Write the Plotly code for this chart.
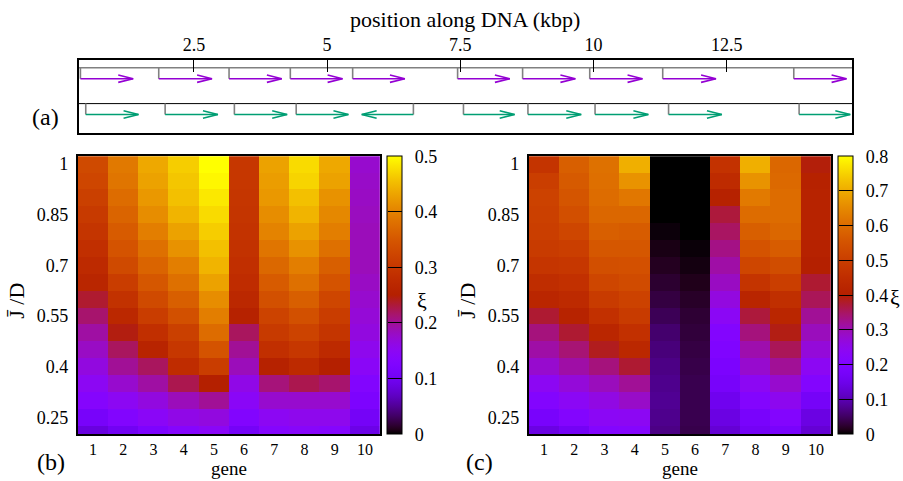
import math
import plotly.graph_objects as go

# ---------------- data ----------------
# panel (a): genes on the two rows (kbp)
top_start = [0.37, 1.84, 3.16, 4.31, 5.48, 7.45, 8.67, 9.93, 11.30, 13.76]
top_end = [1.36, 2.84, 4.15, 5.29, 6.46, 8.43, 9.66, 10.92, 12.30, 14.75]
bot_start = [0.47, 1.96, 3.26, 4.42, 6.62, 7.56, 8.77, 10.03, 11.41, 13.86]
bot_end = [1.46, 2.95, 4.25, 5.40, 5.65, 8.52, 9.77, 11.03, 12.41, 14.82]
pos_ticks = [2.5, 5, 7.5, 10, 12.5]
pos_labels = ["2.5", "5", "7.5", "10", "12.5"]

genes = [1, 2, 3, 4, 5, 6, 7, 8, 9, 10]
J = [0.2, 0.25, 0.3, 0.35, 0.4, 0.45, 0.5, 0.55, 0.6, 0.65, 0.7, 0.75, 0.8, 0.85, 0.9, 0.95, 1.0]
J_ticks = [0.25, 0.4, 0.55, 0.7, 0.85, 1.0]
J_labels = ["0.25", "0.4", "0.55", "0.7", "0.85", "1"]

# panel (b): xi per gene (columns) vs J (rows, J ascending)
xi_b = {
    1: [0.085, 0.11, 0.135, 0.15, 0.165, 0.18, 0.195, 0.215, 0.235, 0.265, 0.275, 0.285, 0.295, 0.305, 0.315, 0.325, 0.33],
    2: [0.10, 0.13, 0.15, 0.175, 0.20, 0.22, 0.245, 0.27, 0.29, 0.31, 0.33, 0.345, 0.355, 0.365, 0.375, 0.385, 0.39],
    3: [0.12, 0.145, 0.165, 0.195, 0.22, 0.26, 0.285, 0.31, 0.33, 0.35, 0.365, 0.38, 0.395, 0.41, 0.42, 0.43, 0.435],
    4: [0.135, 0.16, 0.185, 0.225, 0.28, 0.30, 0.315, 0.34, 0.36, 0.38, 0.395, 0.415, 0.43, 0.445, 0.455, 0.46, 0.465],
    5: [0.145, 0.165, 0.20, 0.25, 0.31, 0.345, 0.375, 0.395, 0.41, 0.43, 0.445, 0.455, 0.465, 0.475, 0.485, 0.495, 0.50],
    6: [0.105, 0.13, 0.145, 0.16, 0.185, 0.20, 0.22, 0.255, 0.27, 0.28, 0.285, 0.29, 0.292, 0.295, 0.297, 0.30, 0.30],
    7: [0.135, 0.15, 0.175, 0.21, 0.255, 0.285, 0.305, 0.32, 0.34, 0.355, 0.37, 0.385, 0.40, 0.41, 0.42, 0.425, 0.43],
    8: [0.14, 0.155, 0.175, 0.225, 0.275, 0.30, 0.32, 0.34, 0.36, 0.38, 0.395, 0.415, 0.43, 0.445, 0.455, 0.47, 0.475],
    9: [0.135, 0.155, 0.175, 0.215, 0.25, 0.275, 0.295, 0.31, 0.325, 0.345, 0.36, 0.38, 0.395, 0.405, 0.415, 0.43, 0.435],
    10: [0.09, 0.105, 0.12, 0.13, 0.145, 0.155, 0.165, 0.17, 0.175, 0.18, 0.185, 0.185, 0.185, 0.183, 0.18, 0.178, 0.175],
}
# panel (c)
xi_c = {
    1: [0.14, 0.18, 0.21, 0.24, 0.28, 0.31, 0.335, 0.375, 0.425, 0.45, 0.475, 0.49, 0.50, 0.505, 0.51, 0.50, 0.47],
    2: [0.165, 0.21, 0.235, 0.27, 0.31, 0.34, 0.375, 0.415, 0.44, 0.46, 0.48, 0.50, 0.52, 0.54, 0.555, 0.565, 0.575],
    3: [0.21, 0.235, 0.26, 0.295, 0.335, 0.385, 0.425, 0.46, 0.49, 0.52, 0.54, 0.56, 0.575, 0.59, 0.60, 0.605, 0.61],
    4: [0.215, 0.24, 0.285, 0.32, 0.375, 0.43, 0.46, 0.49, 0.51, 0.53, 0.545, 0.56, 0.57, 0.59, 0.62, 0.665, 0.705],
    5: [0.07, 0.075, 0.078, 0.075, 0.07, 0.064, 0.056, 0.044, 0.033, 0.024, 0.016, 0.01, 0.005, 0.0, 0.0, 0.0, 0.0],
    6: [0.038, 0.04, 0.04, 0.04, 0.037, 0.034, 0.03, 0.026, 0.02, 0.013, 0.008, 0.004, 0.0, 0.0, 0.0, 0.0, 0.0],
    7: [0.125, 0.14, 0.155, 0.175, 0.19, 0.20, 0.21, 0.235, 0.265, 0.29, 0.31, 0.33, 0.35, 0.37, 0.41, 0.445, 0.465],
    8: [0.165, 0.18, 0.21, 0.24, 0.28, 0.305, 0.335, 0.37, 0.42, 0.47, 0.52, 0.55, 0.575, 0.60, 0.625, 0.665, 0.705],
    9: [0.18, 0.21, 0.245, 0.28, 0.32, 0.355, 0.39, 0.425, 0.455, 0.50, 0.535, 0.57, 0.59, 0.60, 0.60, 0.595, 0.59],
    10: [0.125, 0.14, 0.17, 0.21, 0.24, 0.27, 0.295, 0.32, 0.355, 0.375, 0.40, 0.41, 0.415, 0.415, 0.415, 0.41, 0.395],
}
cb_b_ticks = [0, 0.1, 0.2, 0.3, 0.4, 0.5]
cb_b_labels = ["0", "0.1", "0.2", "0.3", "0.4", "0.5"]
cb_c_ticks = [0, 0.1, 0.2, 0.3, 0.4, 0.5, 0.6, 0.7, 0.8]
cb_c_labels = ["0", "0.1", "0.2", "0.3", "0.4", "0.5", "0.6", "0.7", "0.8"]

# ---------------- style ----------------
W, H = 903, 481
FONT = "Liberation Serif"
PURPLE = "#9400d3"
GREEN = "#009e73"
GRAY = "#808080"
PAD = "\u00a0\u2009"


def px(x):
    return x / W


def py(y):
    return 1 - y / H


def gnuplot_color(t):
    r = math.sqrt(t)
    g = t ** 3
    b = max(0.0, math.sin(2 * math.pi * t))
    return "rgb(%d,%d,%d)" % (round(255 * r), round(255 * g), round(255 * b))


cscale = [[i / 60, gnuplot_color(i / 60)] for i in range(61)]

fig = go.Figure()

# panel (a) row levels (axis units 0..1)
Y_BASE, Y_TOP, Y_SEP, Y_BOT = 0.892, 0.743, 0.405, 0.257
AH_DX, AH_DY = 0.28, 0.05
XR = [0.34, 14.855]

fig.add_trace(go.Scatter(x=XR, y=[Y_BASE, Y_BASE], mode="lines",
                         line=dict(color=GRAY, width=1.6), hoverinfo="skip", xaxis="x", yaxis="y"))
fig.add_trace(go.Scatter(x=XR, y=[Y_SEP, Y_SEP], mode="lines",
                         line=dict(color="black", width=1), hoverinfo="skip", xaxis="x", yaxis="y"))


def gene_traces(starts, ends, y_row, y_from, color):
    tx, ty, lx, ly = [], [], [], []
    for s, e in zip(starts, ends):
        tx += [s, s, None]
        ty += [y_from, y_row, None]
        d = AH_DX if e > s else -AH_DX
        lx += [s, e, None, e - d, e, e - d, None]
        ly += [y_row, y_row, None, y_row + AH_DY, y_row, y_row - AH_DY, None]
    fig.add_trace(go.Scatter(x=tx, y=ty, mode="lines", line=dict(color=GRAY, width=1.6),
                             hoverinfo="skip", xaxis="x", yaxis="y"))
    fig.add_trace(go.Scatter(x=lx, y=ly, mode="lines", line=dict(color=color, width=1.6),
                             hoverinfo="skip", xaxis="x", yaxis="y"))


gene_traces(top_start, top_end, Y_TOP, Y_BASE, PURPLE)
gene_traces(bot_start, bot_end, Y_BOT, Y_SEP, GREEN)


def zmat(d):
    return [[d[g][i] for g in genes] for i in range(len(J))]


def cbar(xpix, vals, labels):
    return dict(x=px(xpix), xanchor="left", y=py(434), yanchor="bottom",
                len=279 / H, lenmode="fraction", thickness=15, thicknessmode="pixels",
                xpad=0, ypad=0, outlinewidth=1, outlinecolor="black",
                tickvals=vals, ticktext=[PAD + t for t in labels], ticks="inside", ticklen=14,
                tickcolor="black", tickfont=dict(family=FONT, size=18, color="black"))


fig.add_trace(go.Heatmap(x=genes, y=J, z=zmat(xi_b), zmin=0, zmax=0.5, colorscale=cscale,
                         xaxis="x2", yaxis="y2", colorbar=cbar(388, cb_b_ticks, cb_b_labels)))
fig.add_trace(go.Heatmap(x=genes, y=J, z=zmat(xi_c), zmin=0, zmax=0.8, colorscale=cscale,
                         xaxis="x3", yaxis="y3", colorbar=cbar(840, cb_c_ticks, cb_c_labels)))

tickfont = dict(family=FONT, size=18, color="black")
gfont = dict(family=FONT, size=16, color="black")
frame = dict(showline=True, mirror=True, linewidth=2, linecolor="black", showgrid=False, zeroline=False)

layout = dict(
    width=W, height=H, margin=dict(l=0, r=0, t=0, b=0),
    paper_bgcolor="white", plot_bgcolor="white", showlegend=False,
    font=dict(family=FONT, color="black"),
    xaxis=dict(domain=[px(79), px(854)], range=XR, side="top",
               tickvals=pos_ticks, ticktext=pos_labels, ticks="inside", ticklen=12,
               tickcolor="black", tickwidth=1, tickfont=tickfont, **frame),
    yaxis=dict(domain=[py(132), py(58)], range=[0, 1], showticklabels=False, ticks="", **frame),
    xaxis2=dict(domain=[px(78), px(381)], range=[0.5, 10.5], tickvals=genes,
                ticktext=[str(g) for g in genes], ticks="", tickfont=gfont, anchor="y2", **frame),
    yaxis2=dict(domain=[py(434), py(155)], range=[0.2, 1.023], tickvals=J_ticks, ticktext=J_labels,
                ticks="", tickfont=tickfont, anchor="x2", ticklabelstandoff=4, **frame),
    xaxis3=dict(domain=[px(530), px(833)], range=[0.5, 10.5], tickvals=genes,
                ticktext=[str(g) for g in genes], ticks="", tickfont=gfont, anchor="y3", **frame),
    yaxis3=dict(domain=[py(434), py(155)], range=[0.2, 1.023], tickvals=J_ticks, ticktext=J_labels,
                ticks="", tickfont=tickfont, anchor="x3", ticklabelstandoff=4, **frame),
)
fig.update_layout(**layout)


def ann(text, x, y, size, angle=0):
    fig.add_annotation(text=text, x=px(x), y=py(y), xref="paper", yref="paper", showarrow=False,
                       xanchor="center", yanchor="middle", textangle=angle,
                       font=dict(family=FONT, size=size, color="black"))


ann("position along DNA (kbp)", 466, 18, 22)
ann("(a)", 46, 115, 24)
ann("(b)", 51, 462, 24)
ann("(c)", 481, 462, 24)
ann("gene", 229.5, 468, 19)
ann("gene", 681.5, 468, 19)
ann("J\u0304 /D", 17, 300, 22, -90)
ann("J\u0304 /D", 469, 300, 22, -90)
ann("ξ", 423, 300, 22)
ann("ξ", 897, 297, 22)

fig.write_html("out.html")
